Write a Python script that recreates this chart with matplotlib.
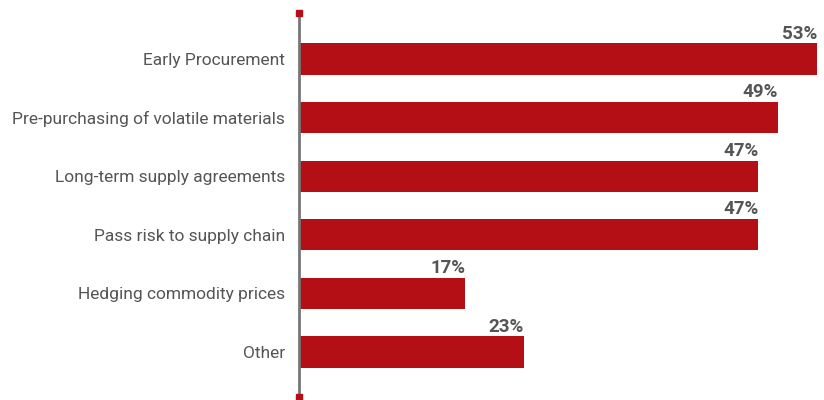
import matplotlib
matplotlib.use("Agg")
import matplotlib.pyplot as plt

categories = [
    "Early Procurement",
    "Pre-purchasing of volatile materials",
    "Long-term supply agreements",
    "Pass risk to supply chain",
    "Hedging commodity prices",
    "Other",
]
values = [53, 49, 47, 47, 17, 23]

bar_color = "#b30f14"
text_color = "#555555"

plt.rcParams["font.family"] = ["Roboto", "DejaVu Sans"]

fig = plt.figure(figsize=(8.24, 4.0), dpi=100)
W, H = 824, 400
left, right, top, bottom = 299, 817, 13, 397
ax = fig.add_axes([left / W, 1 - bottom / H, (right - left) / W, (bottom - top) / H])

y = list(range(len(categories)))
ax.barh(y, values, height=0.53, color=bar_color, zorder=2)

for yi, v in zip(y, values):
    ax.text(v, yi - 0.28, f"{v}%", ha="right", va="bottom",
            fontsize=13.5, fontweight="bold", color=text_color)

ax.set_xlim(0, 53)
ax.set_ylim(5.768, -0.785)
ax.set_yticks(y)
ax.set_yticklabels(categories, fontsize=12.5, color=text_color)
ax.tick_params(axis="y", length=0, pad=10)
ax.set_xticks([])

for s in ["top", "right", "bottom"]:
    ax.spines[s].set_visible(False)
ax.spines["left"].set_color("#777777")
ax.spines["left"].set_linewidth(2)
ax.spines["left"].set_zorder(3)

# square end caps on the category axis
ax.plot([0, 0], [-0.785, 5.768], linestyle="none", marker="s", markersize=5,
        color=bar_color, clip_on=False, zorder=4)

fig.savefig("out.png", dpi=100)
